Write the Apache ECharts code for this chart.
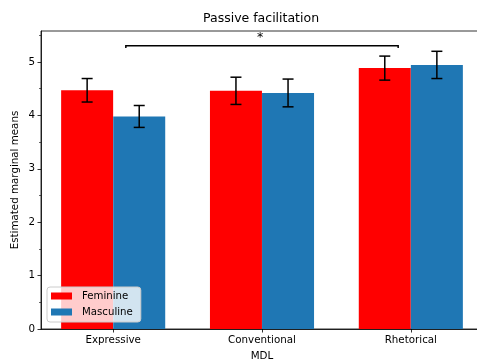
<!DOCTYPE html>
<html>
<head>
<meta charset="utf-8">
<script src="https://cdn.jsdelivr.net/npm/echarts@6/dist/echarts.min.js"></script>
<style>html,body{margin:0;padding:0;background:#fff}#c{width:477px;height:360px}</style>
</head>
<body>
<div id="c"></div>
<script>
// ---- data ----
const categories = ['Expressive', 'Conventional', 'Rhetorical'];
const seriesNames = ['Feminine', 'Masculine'];
const feminineMeans = [4.47, 4.46, 4.885];
const feminineErr = [0.22, 0.255, 0.225];
const masculineMeans = [3.98, 4.42, 4.945];
const masculineErr = [0.205, 0.26, 0.255];
const yTicks = [0, 1, 2, 3, 4, 5];
const yMinorTicks = [0.5, 1.5, 2.5, 3.5, 4.5, 5.5];
const bracketFrom = 0.085, bracketTo = 1.915, bracketY = 5.305, bracketDrop = 5.26;
const bracketLabel = '*';

const FONT = 'DejaVu Sans';
const barOffset = 0.175;
const catIdx = categories.map((c, i) => i);

function barData(means, sign) { return means.map((v, i) => [i + sign * barOffset, v]); }
function errData(means, errs, sign) { return means.map((v, i) => [i + sign * barOffset, v - errs[i], v + errs[i]]); }

function errRender(params, api) {
  const x = api.value(0);
  const lo = api.coord([x, api.value(1)]);
  const hi = api.coord([x, api.value(2)]);
  const cap = 5.5;
  const style = { stroke: '#000', lineWidth: 1.5, fill: null };
  return {
    type: 'group',
    children: [
      { type: 'line', shape: { x1: lo[0], y1: lo[1], x2: hi[0], y2: hi[1] }, style },
      { type: 'line', shape: { x1: lo[0] - cap, y1: lo[1], x2: lo[0] + cap, y2: lo[1] }, style },
      { type: 'line', shape: { x1: hi[0] - cap, y1: hi[1], x2: hi[0] + cap, y2: hi[1] }, style }
    ]
  };
}

function bracketRender(params, api) {
  const a = api.coord([api.value(0), api.value(2)]);
  const b = api.coord([api.value(1), api.value(2)]);
  const ad = api.coord([api.value(0), api.value(3)]);
  const bd = api.coord([api.value(1), api.value(3)]);
  return {
    type: 'group',
    children: [
      { type: 'polyline', shape: { points: [ad, a, b, bd] }, style: { stroke: '#000', lineWidth: 1.5, fill: null } },
      { type: 'text', x: (a[0] + b[0]) / 2 - 2, y: a[1] - 7.5,
        style: { text: bracketLabel, font: '12.5px "' + FONT + '"', fill: '#000', align: 'center', verticalAlign: 'middle' } }
    ]
  };
}

const chart = echarts.init(document.getElementById('c'), null, { renderer: 'canvas' });
chart.setOption({
  animation: false,
  backgroundColor: '#fff',
  textStyle: { fontFamily: FONT },
  title: {
    text: 'Passive facilitation',
    left: 198, top: 7,
    textStyle: { fontFamily: FONT, fontSize: 12.5, fontWeight: 'normal', color: '#000' }
  },
  legend: {
    orient: 'vertical',
    left: 47, top: 287,
    padding: [4, 8, 5, 4],
    itemGap: 6,
    itemWidth: 21, itemHeight: 7,
    icon: 'rect',
    backgroundColor: 'rgba(255,255,255,0.8)',
    borderColor: '#cccccc', borderWidth: 1, borderRadius: 3,
    data: seriesNames,
    textStyle: { fontFamily: FONT, fontSize: 10.2, color: '#000', padding: [0, 0, 0, 5] }
  },
  grid: {
    left: 41, top: 31, right: -6, bottom: 31,
    outerBoundsMode: 'none', containLabel: false,
    show: true, borderColor: '#000', borderWidth: 0.8, backgroundColor: 'transparent'
  },
  xAxis: {
    type: 'value', min: -0.485, max: 2.485,
    splitLine: { show: false },
    axisLine: { onZero: false, lineStyle: { color: '#000', width: 0.8 } },
    axisTick: { customValues: catIdx, length: 3.5, lineStyle: { color: '#000', width: 0.8 } },
    axisLabel: { customValues: catIdx, formatter: v => categories[Math.round(v)], fontSize: 10.3, color: '#000', margin: 6, fontFamily: FONT },
    name: 'MDL', nameLocation: 'middle', nameGap: 22, nameMoveOverlap: false,
    nameTextStyle: { fontSize: 10.3, color: '#000', fontFamily: FONT }
  },
  yAxis: [{
    type: 'value', min: 0, max: 5.58,
    splitLine: { show: false },
    axisLine: { show: true, onZero: false, lineStyle: { color: '#000', width: 0.8 } },
    axisTick: { customValues: yTicks, length: 3.5, lineStyle: { color: '#000', width: 0.8 } },
    axisLabel: { customValues: yTicks, fontSize: 10.3, color: '#000', margin: 6, fontFamily: FONT },
    name: 'Estimated marginal means', nameLocation: 'middle', nameGap: 21, nameRotate: 90, nameMoveOverlap: false,
    nameTextStyle: { fontSize: 10.3, color: '#000', fontFamily: FONT }
  }, {
    type: 'value', min: 0, max: 5.58, position: 'left',
    splitLine: { show: false },
    axisLine: { show: false, onZero: false },
    axisTick: { customValues: yMinorTicks, length: 2, lineStyle: { color: '#000', width: 0.6 } },
    axisLabel: { show: false }
  }],
  series: [
    { name: seriesNames[0], type: 'bar', data: barData(feminineMeans, -1), barWidth: 52, barGap: '-100%', itemStyle: { color: '#ff0000' }, z: 2 },
    { name: seriesNames[1], type: 'bar', data: barData(masculineMeans, 1), barWidth: 52, barGap: '-100%', itemStyle: { color: '#1f77b4' }, z: 2 },
    { type: 'custom', data: errData(feminineMeans, feminineErr, -1), renderItem: errRender, z: 5, encode: { x: 0, y: [1, 2] } },
    { type: 'custom', data: errData(masculineMeans, masculineErr, 1), renderItem: errRender, z: 5, encode: { x: 0, y: [1, 2] } },
    { type: 'custom', data: [[bracketFrom, bracketTo, bracketY, bracketDrop]], renderItem: bracketRender, z: 5, encode: { x: [0, 1], y: [2, 3] }, clip: false }
  ]
});
</script>
</body>
</html>
